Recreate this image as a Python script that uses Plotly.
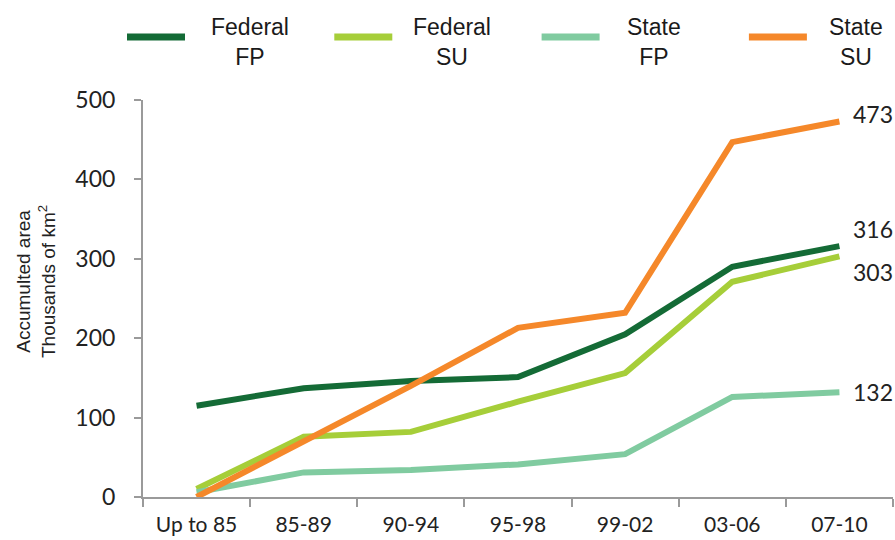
import plotly.graph_objects as go

categories = ["Up to 85", "85-89", "90-94", "95-98", "99-02", "03-06", "07-10"]
series_names = ["Federal<br>FP", "Federal<br>SU", "State<br>FP", "State<br>SU"]
federal_fp = [115, 137, 146, 151, 205, 290, 316]
federal_su = [10, 76, 82, 120, 156, 271, 303]
state_fp = [6, 31, 34, 41, 54, 126, 132]
state_su = [0, 70, 140, 213, 232, 447, 473]
y_ticks = [0, 100, 200, 300, 400, 500]

colors = ["#146B36", "#A6CE39", "#80CBA0", "#F5882A"]
all_series = [federal_fp, federal_su, state_fp, state_su]
label_yshift = [17, -16, 0, 7]

# plot area in pixels (for legend placement helpers)
L, R, T, B = 143, 893, 100, 497
W, H = 895, 540


def px_x(p):
    return (p - L) / (R - L)


def px_y(p):
    return (B - p) / (B - T)


fig = go.Figure()
for name, vals, col in zip(series_names, all_series, colors):
    fig.add_trace(go.Scatter(
        x=categories, y=vals, name=name, mode="lines",
        line=dict(color=col, width=6), cliponaxis=False, showlegend=False,
    ))

# end-of-line value labels
for vals, ys in zip(all_series, label_yshift):
    fig.add_annotation(
        x=categories[-1], y=vals[-1], text=str(vals[-1]), showarrow=False,
        xanchor="left", yanchor="middle", xshift=12, yshift=ys,
        font=dict(family="Lato, Open Sans, sans-serif", size=23, color="#222222"),
    )

# custom legend (wide swatches, centred two-line labels)
for i, (name, col) in enumerate(zip(series_names, colors)):
    x0 = 127 + 207.3 * i
    fig.add_shape(
        type="line", xref="paper", yref="paper",
        x0=px_x(x0), x1=px_x(x0 + 58), y0=px_y(37), y1=px_y(37),
        line=dict(color=col, width=7),
    )
    fig.add_annotation(
        xref="paper", yref="paper", x=px_x(250 + 202 * i), y=px_y(42),
        text=name, showarrow=False, xanchor="center", yanchor="middle",
        align="center",
        font=dict(family="Liberation Sans, Arial, sans-serif", size=23, color="#1a1a1a"),
    )

# y-axis title
fig.add_annotation(
    xref="paper", yref="paper", x=px_x(36), y=px_y(282),
    text="Accumulted area<br>Thousands of km<sup>2</sup>", showarrow=False,
    textangle=-90, xanchor="center", yanchor="middle", align="center",
    font=dict(family="Liberation Sans, Arial, sans-serif", size=19, color="#222222"),
)

fig.update_layout(
    width=W, height=H,
    margin=dict(l=L, r=W - R, t=T, b=H - B, autoexpand=False),
    paper_bgcolor="white", plot_bgcolor="white",
    font=dict(family="Lato, Open Sans, sans-serif", color="#222222"),
    showlegend=False,
    xaxis=dict(
        type="category", range=[-0.5, 6.5], tickson="boundaries",
        showline=True, linecolor="#9a9a9a", linewidth=2,
        ticks="outside", ticklen=8, tickwidth=2, tickcolor="#9a9a9a",
        showgrid=False, zeroline=False, automargin=False,
        tickfont=dict(size=21, color="#222222"), ticklabelstandoff=8,
    ),
    yaxis=dict(
        range=[0, 500], tickvals=y_ticks,
        showline=True, linecolor="#9a9a9a", linewidth=2,
        ticks="outside", ticklen=7, tickwidth=2, tickcolor="#9a9a9a",
        showgrid=False, zeroline=False, automargin=False,
        tickfont=dict(size=23, color="#222222"), ticklabelstandoff=14,
    ),
)

fig.write_html(
    "out.html",
    config={"displayModeBar": False},
    post_script="document.body.style.margin='0';document.body.style.padding='0';",
)
